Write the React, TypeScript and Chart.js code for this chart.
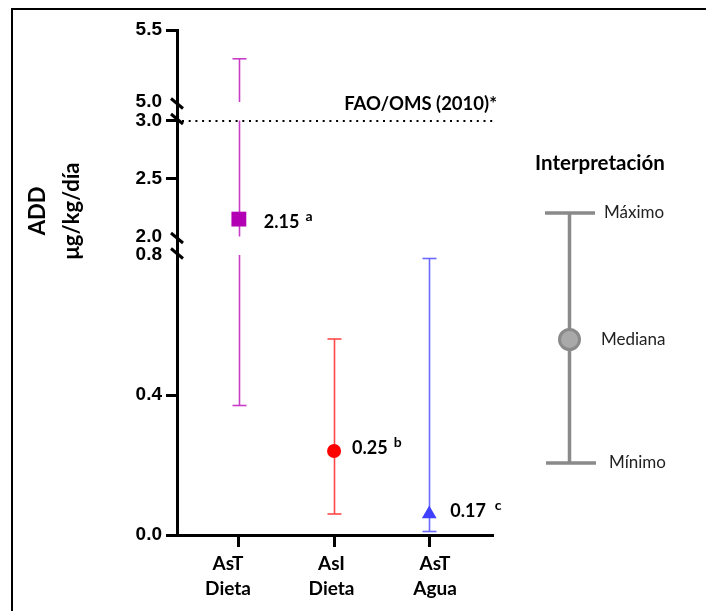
import React, { useEffect, useRef } from 'react';
import { Chart, registerables } from 'chart.js';

Chart.register(...registerables);

// ---------- data ----------
const categories: string[][] = [['AsT', 'Dieta'], ['AsI', 'Dieta'], ['AsT', 'Agua']];
const medians = [2.15, 0.24, 0.06];
const minimums = [0.37, 0.06, 0.01];
const maximums = [5.3, 0.56, 0.79];
const valueLabels = ['2.15', '0.25', '0.17'];
const letterLabels = ['a', 'b', 'c'];
const yTickValues = [0, 0.4, 0.8, 2.0, 2.5, 3.0, 5.0, 5.5];
const yTickLabels = ['0.0', '0.4', '0.8', '2.0', '2.5', '3.0', '5.0', '5.5'];
const yTickMarkShown = [true, true, false, false, true, true, false, true];
const axisSegments: number[][] = [[0, 0.8], [2.0, 3.0], [5.0, 5.5]];
const referenceValue = 3.0;
const referenceLabel = 'FAO/OMS (2010)*';
const yAxisTitle = ['ADD', 'μg/kg/día'];
const legendTitle = 'Interpretación';
const legendLabels = ['Máximo', 'Mediana', 'Mínimo'];

// ---------- styles / layout ----------
const segmentSpans = [2.8, 1.16, 0.72];
const segmentGap = 0.185;
const markerColors = ['#b400b4', '#ff0000', '#4040ff'];
const barColors = ['#c83cc8', '#ff4848', '#6a6aff'];
const pointStyles = ['rect', 'circle', 'triangle'];
const pointRadii = [10.5, 7, 8.5];
const labelOffsets = [[25, 9], [18, 3], [21, 3]];
const letterGaps = [6, 6, 9];
const LATO = 'Lato, "Noto Sans", sans-serif';

function toDisplay(v: number): number {
  let start = 0;
  for (let i = 0; i < axisSegments.length; i++) {
    const [lo, hi] = axisSegments[i];
    if (v <= hi || i === axisSegments.length - 1) {
      return start + ((Math.max(v, lo) - lo) / (hi - lo)) * segmentSpans[i];
    }
    start += segmentSpans[i] + segmentGap;
  }
  return start;
}

const errorBarPlugin = {
  id: 'errorBars',
  beforeDatasetsDraw(chart: any) {
    const { ctx } = chart;
    const xs = chart.scales.x;
    const ys = chart.scales.y;
    medians.forEach((_, i) => {
      const px = Math.round(xs.getPixelForValue(i + 1)) + 0.5;
      ctx.save();
      ctx.strokeStyle = barColors[i];
      ctx.lineWidth = 1.6;
      axisSegments.forEach(([lo, hi]) => {
        const a = Math.max(minimums[i], lo);
        const b = Math.min(maximums[i], hi);
        if (a >= b) return;
        ctx.beginPath();
        ctx.moveTo(px, ys.getPixelForValue(toDisplay(a)));
        ctx.lineTo(px, ys.getPixelForValue(toDisplay(b)));
        ctx.stroke();
      });
      [minimums[i], maximums[i]].forEach((v) => {
        const py = ys.getPixelForValue(toDisplay(v));
        ctx.beginPath();
        ctx.moveTo(px - 7, py);
        ctx.lineTo(px + 7, py);
        ctx.stroke();
      });
      ctx.restore();
    });
  },
};

const overlayPlugin = {
  id: 'overlay',
  afterDraw(chart: any) {
    const { ctx, chartArea } = chart;
    const xs = chart.scales.x;
    const ys = chart.scales.y;
    ctx.save();

    // frame
    ctx.fillStyle = '#000';
    ctx.fillRect(11, 8, 2, 611);
    ctx.fillRect(11, 8, 706, 2);

    // y axis title
    ctx.fillStyle = '#000';
    ctx.font = `bold 22px ${LATO}`;
    ctx.textAlign = 'center';
    ctx.textBaseline = 'alphabetic';
    const titleBaselines = [45, 79];
    yAxisTitle.forEach((t, i) => {
      ctx.save();
      ctx.translate(titleBaselines[i], 211);
      ctx.rotate(-Math.PI / 2);
      ctx.fillText(t, 0, 0);
      ctx.restore();
    });

    // axis break marks
    const ax = chartArea.left;
    ctx.strokeStyle = '#000';
    ctx.lineWidth = 3;
    for (let s = 0; s < axisSegments.length - 1; s++) {
      const yTop = ys.getPixelForValue(toDisplay(axisSegments[s][1]));
      const yBot = ys.getPixelForValue(toDisplay(axisSegments[s + 1][0]));
      [yTop - 1.5, yBot + 1.5].forEach((cy) => {
        ctx.beginPath();
        ctx.moveTo(ax - 6, cy - 5);
        ctx.lineTo(ax + 6, cy + 5);
        ctx.stroke();
      });
    }

    // reference line
    const ry = Math.round(ys.getPixelForValue(toDisplay(referenceValue)));
    ctx.strokeStyle = '#000';
    ctx.lineWidth = 2;
    ctx.setLineDash([2, 4.7]);
    ctx.beginPath();
    ctx.moveTo(ax + 5, ry);
    ctx.lineTo(chartArea.right, ry);
    ctx.stroke();
    ctx.setLineDash([]);
    ctx.font = `bold 18.5px ${LATO}`;
    ctx.textAlign = 'right';
    ctx.textBaseline = 'alphabetic';
    ctx.fillText(referenceLabel, 497, 110);

    // value labels
    medians.forEach((m, i) => {
      const px = xs.getPixelForValue(i + 1);
      const py = ys.getPixelForValue(toDisplay(m));
      const [dx, dy] = labelOffsets[i];
      ctx.font = `bold 18px ${LATO}`;
      ctx.textAlign = 'left';
      ctx.textBaseline = 'alphabetic';
      ctx.fillText(valueLabels[i], px + dx, py + dy);
      const w = ctx.measureText(valueLabels[i]).width;
      ctx.font = `bold 14px ${LATO}`;
      ctx.fillText(letterLabels[i], px + dx + w + letterGaps[i], py + dy - 7);
    });

    // interpretation key
    ctx.fillStyle = '#000';
    ctx.font = `bold 20.5px ${LATO}`;
    ctx.textAlign = 'center';
    ctx.textBaseline = 'middle';
    ctx.fillText(legendTitle, 600, 163);
    ctx.strokeStyle = '#8a8a8a';
    ctx.lineWidth = 3.5;
    ctx.beginPath();
    ctx.moveTo(569.5, 213);
    ctx.lineTo(569.5, 463);
    ctx.moveTo(545, 213);
    ctx.lineTo(595, 213);
    ctx.moveTo(546, 463);
    ctx.lineTo(596, 463);
    ctx.stroke();
    ctx.beginPath();
    ctx.arc(569.5, 339.5, 10, 0, Math.PI * 2);
    ctx.fillStyle = '#a9a9a9';
    ctx.fill();
    ctx.lineWidth = 3;
    ctx.stroke();
    ctx.fillStyle = '#222';
    ctx.font = `17px ${LATO}`;
    ctx.textAlign = 'left';
    const keyPos = [[604, 213], [601, 339.5], [609, 463]];
    legendLabels.forEach((t, i) => ctx.fillText(t, keyPos[i][0], keyPos[i][1]));

    ctx.restore();
  },
};

export default function App() {
  const ref = useRef<HTMLCanvasElement | null>(null);

  useEffect(() => {
    if (!ref.current) return;
    const chart = new Chart(ref.current, {
      type: 'scatter',
      data: {
        datasets: categories.map((c, i) => ({
          label: c.join(' '),
          data: [{ x: i + 1, y: toDisplay(medians[i]) }],
          pointStyle: pointStyles[i] as any,
          pointRadius: pointRadii[i],
          pointHoverRadius: pointRadii[i],
          backgroundColor: markerColors[i],
          borderColor: markerColors[i],
          borderWidth: 0,
        })),
      },
      options: {
        responsive: false,
        maintainAspectRatio: false,
        animation: false,
        events: [],
        layout: { padding: { top: 30, right: 213, left: 0, bottom: 0 } },
        plugins: { legend: { display: false }, tooltip: { enabled: false } },
        scales: {
          x: {
            type: 'linear',
            position: 'bottom',
            weight: 0,
            min: 0.35,
            max: 3.67,
            afterBuildTicks: (s: any) => {
              s.ticks = categories.map((_, i) => ({ value: i + 1 }));
            },
            afterFit: (s: any) => {
              s.height = 12;
            },
            ticks: { display: false },
            grid: { drawOnChartArea: false, drawTicks: true, tickLength: 12, tickWidth: 3, tickColor: '#000' },
            border: { display: true, color: '#000', width: 3 },
          },
          xLabels: {
            type: 'linear',
            position: 'bottom',
            weight: 1,
            min: 0.507,
            max: 3.56,
            afterBuildTicks: (s: any) => {
              s.ticks = categories.map((_, i) => ({ value: i + 1 }));
            },
            afterFit: (s: any) => {
              s.height = 64;
            },
            ticks: {
              autoSkip: false,
              maxRotation: 0,
              padding: 4,
              color: '#000',
              font: { family: LATO, weight: 'bold', size: 19, lineHeight: 1.32 },
              callback: (_v: any, i: number) => categories[i],
            },
            grid: { display: false, drawTicks: false },
            border: { display: false },
          },
          y: {
            type: 'linear',
            min: 0,
            max: toDisplay(5.5),
            afterBuildTicks: (s: any) => {
              s.ticks = yTickValues.map((v) => ({ value: toDisplay(v) }));
            },
            afterFit: (s: any) => {
              s.width = 177;
            },
            ticks: {
              autoSkip: false,
              padding: 4,
              color: '#000',
              font: { family: '"Liberation Sans", Arial, sans-serif', weight: 'bold', size: 19 },
              callback: (_v: any, i: number) => yTickLabels[i],
            },
            grid: {
              drawOnChartArea: false,
              drawTicks: true,
              tickLength: 11,
              tickWidth: 3,
              tickColor: (c: any) => (yTickMarkShown[c.index] ? '#000' : 'rgba(0,0,0,0)'),
            },
            border: { display: true, color: '#000', width: 3 },
          },
        },
      } as any,
      plugins: [errorBarPlugin, overlayPlugin],
    });
    return () => chart.destroy();
  }, []);

  return (
    <div style={{ position: 'absolute', left: 0, top: 0, width: 706, height: 611, background: '#fff' }}>
      <canvas ref={ref} width={706} height={611} style={{ display: 'block' }} />
    </div>
  );
}
